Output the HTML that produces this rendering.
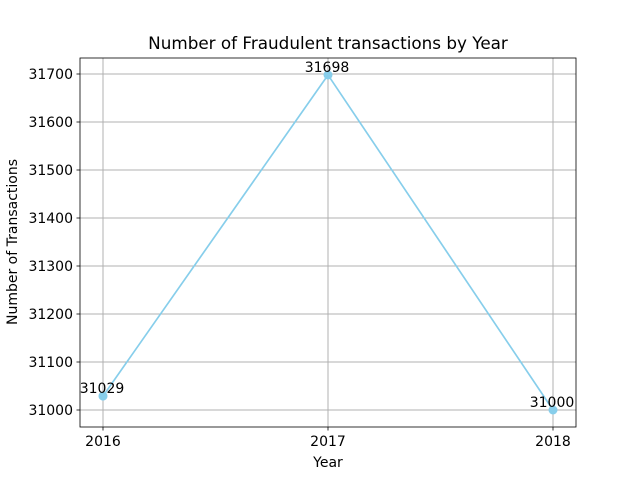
<!DOCTYPE html>
<html><head><meta charset="utf-8"><style>
body{margin:0;background:#fff}
svg text{font-family:"DejaVu Sans","Liberation Sans",sans-serif;fill:#000}
</style></head><body>
<svg width="640" height="480" xmlns="http://www.w3.org/2000/svg">
<rect width="640" height="480" fill="#fff"/>
<text x="328" y="49" font-size="16.8" text-anchor="middle">Number of Fraudulent transactions by Year</text>
<g id="grid"></g>
<g id="ticks"></g>
<rect x="80" y="58" width="496" height="369" fill="none" stroke="#000" stroke-width="0.8"/>
<g id="marks"></g>
<text x="328" y="467" font-size="14" text-anchor="middle">Year</text>
<text x="17" y="242" font-size="14" text-anchor="middle" transform="rotate(-90 17 242)">Number of Transactions</text>
</svg>
<script>
const years=[2016,2017,2018];
const counts=[31029,31698,31000];
const yTicks=[31000,31100,31200,31300,31400,31500,31600,31700];
const NS="http://www.w3.org/2000/svg";
function X(v){return 103+(v-2016)*225;}
function Y(v){return 410-(v-31000)*0.48;}
function mk(t,a,p){const e=document.createElementNS(NS,t);for(const k in a)e.setAttribute(k,a[k]);p.appendChild(e);return e;}
const grid=document.getElementById('grid'),ticks=document.getElementById('ticks'),marks=document.getElementById('marks');
yTicks.forEach(v=>{
 const l=mk('line',{x1:80,x2:576,y1:Y(v),y2:Y(v),stroke:'#b0b0b0','stroke-width':1},grid);
 
 
 mk('line',{x1:76.5,x2:80,y1:Y(v),y2:Y(v),stroke:'#000','stroke-width':0.8},ticks);
 const t=mk('text',{x:73,y:Y(v)+5,'font-size':14,'text-anchor':'end'},ticks);t.textContent=v;
 
 
});
years.forEach(v=>{
 const l=mk('line',{x1:X(v),x2:X(v),y1:58,y2:427,stroke:'#b0b0b0','stroke-width':1},grid);
 
 
 mk('line',{x1:X(v),x2:X(v),y1:427,y2:430.5,stroke:'#000','stroke-width':0.8},ticks);
 const t=mk('text',{x:X(v),y:446,'font-size':14,'text-anchor':'middle'},ticks);t.textContent=v;
 
 
});
const pl=mk('polyline',{points:years.map((y,i)=>X(y)+','+Y(counts[i])).join(' '),fill:'none',stroke:'#87ceeb','stroke-width':1.7},marks);


years.forEach((y,i)=>{
 const c=mk('circle',{cx:X(y),cy:Y(counts[i]),r:4.5,fill:'#87ceeb'},marks);
 
 
 const t=mk('text',{x:X(y)-1,y:Y(counts[i])-3,'font-size':14,'text-anchor':'middle'},marks);t.textContent=counts[i];
 
 
});
</script>
</body></html>
